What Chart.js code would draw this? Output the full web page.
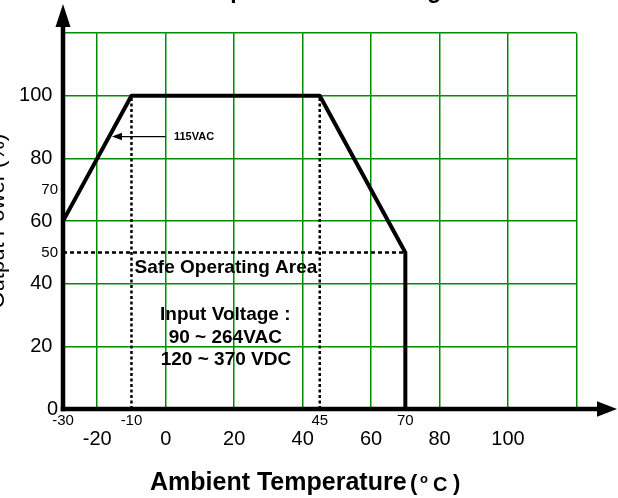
<!DOCTYPE html>
<html><head><meta charset="utf-8">
<script src="https://cdn.jsdelivr.net/npm/chart.js@4"></script>
<style>html,body{margin:0;padding:0;background:#fff}#wrap{width:618px;height:498px;position:relative}</style>
</head><body><div id="wrap"><canvas id="c" width="618" height="498"></canvas></div>
<script>
// ---- data ----
const curveTemp = [-30, -10, 45, 70, 70];
const curvePower = [60, 100, 100, 50, 0];
const halfLoadTemp = [-30, 70];
const halfLoadPower = [50, 50];
const lowMarkTemp = [-10, -10];
const highMarkTemp = [45, 45];
const markPower = [0, 100];
const xGridTicks = [-30, -20, 0, 20, 40, 60, 80, 100, 120];
const xMajorLabels = ['', '-20', '0', '20', '40', '60', '80', '100', ''];
const xMinorTicks = [-30, -10, 45, 70];
const xMinorLabels = ['-30', '-10', '45', '70'];
const yTicks = [0, 20, 40, 50, 60, 70, 80, 100, 120];
const yLabels = ['0', '20', '40', '50', '60', '70', '80', '100', ''];
const yMinorValues = [50, 70];
const chartTitle = 'Output Power Derating';
const yTitle = 'Output Power (%)';
const xTitle = 'Ambient Temperature';
const noteLabel = '115VAC';
const areaLabel = 'Safe Operating Area';
const inputLines = ['Input Voltage :', '90 ~ 264VAC', '120 ~ 370 VDC'];

const FF = "'Liberation Sans', Arial, sans-serif";
const GREEN = 'rgb(0,140,0)';
const pts = (xs, ys) => xs.map((x, i) => ({x: x, y: ys[i]}));
const setTicks = arr => s => { s.ticks = arr.map(v => ({value: v})); };
const isMinorY = v => yMinorValues.indexOf(v) >= 0;

const decor = {
  id: 'decor',
  afterDraw(chart) {
    const c = chart.ctx, xs = chart.scales.x, ys = chart.scales.y;
    const X = v => xs.getPixelForValue(v), Y = v => ys.getPixelForValue(v);
    c.save();
    c.strokeStyle = '#000'; c.fillStyle = '#000';
    // axes with arrows
    const x0 = X(-30), y0 = Y(0);
    c.lineWidth = 4.5; c.lineCap = 'butt';
    c.beginPath(); c.moveTo(x0, y0 + 2.25); c.lineTo(x0, 26); c.stroke();
    c.beginPath(); c.moveTo(x0 - 2.25, y0); c.lineTo(599, y0); c.stroke();
    c.beginPath(); c.moveTo(x0, 4); c.lineTo(x0 - 7.5, 27); c.lineTo(x0 + 7.5, 27); c.closePath(); c.fill();
    c.beginPath(); c.moveTo(617, y0); c.lineTo(597, y0 - 7.8); c.lineTo(597, y0 + 7.8); c.closePath(); c.fill();
    // 115VAC pointer
    const ay = Y(87), ax0 = X(0), ax1 = X(-15.7);
    c.lineWidth = 1.3;
    c.beginPath(); c.moveTo(ax0, ay); c.lineTo(ax1 + 6, ay); c.stroke();
    c.beginPath(); c.moveTo(ax1, ay); c.lineTo(ax1 + 10, ay - 3.8); c.lineTo(ax1 + 10, ay + 3.8); c.closePath(); c.fill();
    c.font = 'bold 11px ' + FF; c.textAlign = 'left'; c.textBaseline = 'middle';
    c.fillText(noteLabel, X(2.4), ay);
    // area texts
    c.font = 'bold 19px ' + FF; c.textAlign = 'center';
    c.fillText(areaLabel, X(17.6), Y(45));
    c.fillText(inputLines[0], X(17.4), Y(30));
    c.fillText(inputLines[1], X(17.4), Y(22.7));
    c.fillText(inputLines[2], X(17.6), Y(15.6));
    // top title (mostly outside the picture)
    c.font = 'bold 23px ' + FF; c.textBaseline = 'alphabetic';
    c.fillText(chartTitle, 316, -2);
    // y title
    c.save();
    c.translate(4, (ys.top + ys.bottom) / 2);
    c.rotate(-Math.PI / 2);
    c.font = '22px ' + FF; c.textAlign = 'center'; c.textBaseline = 'alphabetic';
    c.fillText(yTitle, 0, 0);
    c.restore();
    // x title
    c.textAlign = 'left'; c.textBaseline = 'alphabetic';
    c.font = 'bold 25px ' + FF; c.fillText(xTitle, 150, 490);
    c.font = 'bold 22px ' + FF; c.fillText('(', 410, 490);
    c.font = 'bold 13px ' + FF; c.fillText('o', 420, 483.3);
    c.font = 'bold 20px ' + FF; c.fillText('C', 433, 490.5);
    c.font = 'bold 22px ' + FF; c.fillText(')', 453, 490);
    c.restore();
  }
};

const lineDs = (xs, ys, w, dash) => ({
  data: pts(xs, ys), showLine: true, borderColor: '#000', backgroundColor: '#000',
  borderWidth: w, borderDash: dash, pointRadius: 0, tension: 0,
  borderJoinStyle: 'round', borderCapStyle: 'butt', fill: false
});

new Chart(document.getElementById('c'), {
  type: 'scatter',
  data: {datasets: [
    lineDs(halfLoadTemp, halfLoadPower, 2.5, [4, 3]),
    lineDs(lowMarkTemp, markPower, 2.5, [3, 2.5]),
    lineDs(highMarkTemp, markPower, 2.5, [3, 2.5]),
    lineDs(curveTemp, curvePower, 4, [])
  ]},
  options: {
    responsive: false, animation: false, devicePixelRatio: 1,
    layout: {padding: {top: 33.2, right: 41.5, left: 0, bottom: 0}},
    plugins: {legend: {display: false}, tooltip: {enabled: false}, title: {display: false}},
    scales: {
      x: {
        type: 'linear', position: 'bottom', min: -30, max: 120, weight: 1,
        afterBuildTicks: setTicks(xGridTicks),
        afterFit: s => { s.height = 498 - 409 - 18.5; },
        grid: {color: GREEN, lineWidth: 1.5, drawTicks: false},
        border: {display: false},
        ticks: {autoSkip: false, maxRotation: 0, minRotation: 0, padding: 1.5, color: '#000',
          font: {family: FF, size: 20, lineHeight: 1},
          callback: (v, i) => xMajorLabels[i]}
      },
      x2: {
        type: 'linear', position: 'bottom', min: -30, max: 120, weight: 0,
        afterBuildTicks: setTicks(xMinorTicks),
        afterFit: s => { s.height = 18.5; },
        grid: {display: false, drawTicks: false},
        border: {display: false},
        ticks: {autoSkip: false, maxRotation: 0, minRotation: 0, padding: 4.5, color: '#000',
          font: {family: FF, size: 15, lineHeight: 1},
          callback: (v, i) => xMinorLabels[i]}
      },
      y: {
        type: 'linear', position: 'left', min: 0, max: 120,
        afterBuildTicks: setTicks(yTicks),
        afterFit: s => { s.width = 63; },
        grid: {
          color: c => (c.tick && isMinorY(c.tick.value)) ? 'rgba(0,0,0,0)' : GREEN,
          lineWidth: 1.5, drawTicks: false
        },
        border: {display: false},
        ticks: {autoSkip: false, padding: 5, color: '#000',
          font: c => ({family: FF, size: (c.tick && isMinorY(c.tick.value)) ? 15 : 20, lineHeight: 1}),
          callback: (v, i) => (isMinorY(v) || v === 0) ? yLabels[i] : yLabels[i] + ' '}
      }
    }
  },
  plugins: [decor]
});
</script>
</body></html>
